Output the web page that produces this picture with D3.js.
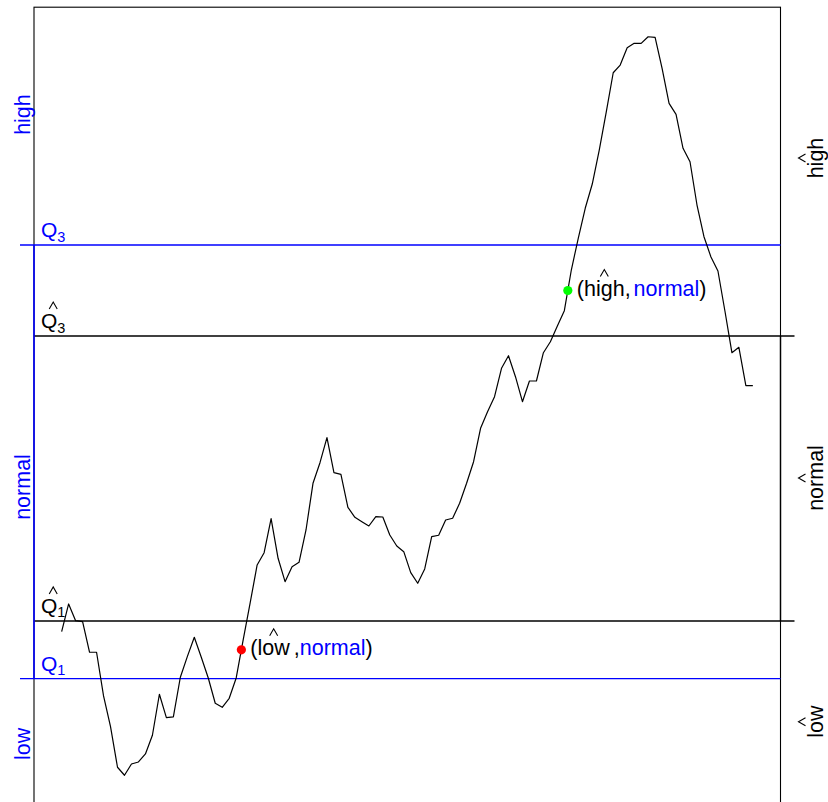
<!DOCTYPE html>
<html>
<head>
<meta charset="utf-8">
<script src="https://cdn.jsdelivr.net/npm/d3@7"></script>
<style>
  html, body { margin: 0; padding: 0; background: #fff; }
  svg { display: block; }
</style>
</head>
<body>
<svg id="chart" width="828" height="802"></svg>
<script>
// Observed series (one value per time step)
const series = [
  16.83, 19.60, 17.93, 17.83, 14.77, 14.77, 10.40, 7.33, 3.27, 2.47,
  3.60, 3.80, 4.60, 6.47, 10.57, 8.23, 8.30, 12.27, 14.33, 16.27,
  14.27, 12.20, 9.67, 9.27, 10.17, 12.20, 16.00, 19.70, 23.50, 24.73,
  28.13, 24.17, 21.83, 23.33, 23.77, 27.00, 31.67, 33.73, 36.23, 32.73,
  32.57, 29.27, 28.27, 27.83, 27.40, 28.33, 28.30, 26.50, 25.40, 24.83,
  22.73, 21.67, 23.10, 26.33, 26.47, 28.00, 28.17, 29.67, 31.67, 33.83,
  37.17, 38.83, 40.33, 43.17, 44.43, 42.33, 39.83, 41.90, 41.90, 44.73,
  45.83, 47.40, 48.93, 53.00, 56.20, 59.20, 61.60, 65.00, 68.80, 72.73,
  73.50, 75.23, 75.67, 75.67, 76.33, 76.27, 73.17, 69.67, 68.57, 65.17,
  63.83, 59.50, 56.33, 54.30, 52.90, 48.90, 44.73, 45.27, 41.43, 41.43
];

// True quartiles (Q1, Q3) and estimated quartiles (Q1 hat, Q3 hat)
const trueQuartiles = [12.13, 55.5];
const estQuartiles = [17.9, 46.4];
const quartileSubs = ["1", "3"];

// Class names
const classNames = ["low", "normal", "high"];

// Misclassified points: segment of the series where it crosses the
// middle of the gap between a true and an estimated quartile
const misclassified = [
  { seg: 25, quartile: 0, est: "low",  truth: "normal", color: "#ff0000" },
  { seg: 72, quartile: 1, est: "high", truth: "normal", color: "#00ff00" }
];

// Vertical placement of the class names (data units)
const trueLabelAt = [5.6, 31.3, 68.55];
const estLabelAt = [7.83, 32.2, 64.2];

const BLUE = "#0000ff";
const FONT = "'Liberation Sans', Arial, Helvetica, sans-serif";
const FS = 21.5;

// Spacing around the comma in the point labels
const commaSpacing = { low: [4, 0], high: [0, 3] };

const svg = d3.select("#chart");
const n = series.length;

// R-style 4% axis padding
const xPad = (n - 1) * 0.04;
const x = d3.scaleLinear().domain([1 - xPad, n + xPad]).range([34, 780.5]);
const [vMin, vMax] = d3.extent(series);
const yPad = (vMax - vMin) * 0.04;
const y = d3.scaleLinear().domain([vMin - yPad, vMax + yPad]).range([804.8, 7.2]);

const left = x.range()[0], right = x.range()[1];

// Plot frame
svg.append("rect")
  .attr("x", left).attr("y", y.range()[1])
  .attr("width", right - left).attr("height", y.range()[0] - y.range()[1])
  .attr("fill", "none").attr("stroke", "#000").attr("stroke-width", 1.1);

// True quartile lines (blue) extend into the left margin
svg.selectAll("line.trueq").data(trueQuartiles).join("line")
  .attr("class", "trueq")
  .attr("x1", left - 14).attr("x2", right)
  .attr("y1", d => y(d)).attr("y2", d => y(d))
  .attr("stroke", BLUE).attr("stroke-width", 1.3);

// Estimated quartile lines (black) extend into the right margin
svg.selectAll("line.estq").data(estQuartiles).join("line")
  .attr("class", "estq")
  .attr("x1", left).attr("x2", right + 14)
  .attr("y1", d => y(d)).attr("y2", d => y(d))
  .attr("stroke", "#000").attr("stroke-width", 1.3);

// "normal" range marks on both sides
svg.append("line")
  .attr("x1", left).attr("x2", left)
  .attr("y1", y(trueQuartiles[0])).attr("y2", y(trueQuartiles[1]))
  .attr("stroke", BLUE).attr("stroke-width", 1.6);
svg.append("line")
  .attr("x1", right).attr("x2", right)
  .attr("y1", y(estQuartiles[0])).attr("y2", y(estQuartiles[1]))
  .attr("stroke", "#000").attr("stroke-width", 1.4);

// Series
const line = d3.line().x((d, i) => x(i + 1)).y(d => y(d));
svg.append("path")
  .datum(series)
  .attr("d", line)
  .attr("fill", "none").attr("stroke", "#000").attr("stroke-width", 1.2)
  .attr("stroke-linejoin", "round");

// Helpers for text
function addText(parent, str, px, py, color, size) {
  return parent.append("text")
    .attr("x", px).attr("y", py)
    .attr("font-family", FONT).attr("font-size", size || FS)
    .attr("fill", color || "#000")
    .text(str);
}
function width(t) { return t.node().getComputedTextLength(); }
function caret(parent, cx, baseY, lift, color) {
  const b = baseY - lift;
  parent.append("path")
    .attr("d", `M${cx - 4},${b} L${cx},${b - 7} L${cx + 4},${b}`)
    .attr("fill", "none").attr("stroke", color || "#000").attr("stroke-width", 1.1);
}

// Quartile labels
function quartileLabel(value, sub, hat, color) {
  const g = svg.append("g").attr("transform", `translate(41, ${y(value) - 8})`);
  const q = addText(g, "Q", 0, 0, color, 21);
  const wq = width(q);
  const s = addText(g, sub, wq, 4.5, color, 14.5);
  const ws = width(s);
  if (hat) caret(g, (wq + ws) / 2, 0, 19, color);
}
trueQuartiles.forEach((v, i) => quartileLabel(v, quartileSubs[i], false, BLUE));
estQuartiles.forEach((v, i) => quartileLabel(v, quartileSubs[i], true, "#000"));

// True class names (left margin)
classNames.forEach((name, i) => {
  svg.append("text")
    .attr("transform", `translate(29.5, ${y(trueLabelAt[i])}) rotate(-90)`)
    .attr("text-anchor", "middle")
    .attr("font-family", FONT).attr("font-size", FS)
    .attr("fill", BLUE)
    .text(name);
});

// Estimated class names with hats (right margin)
classNames.forEach((name, i) => {
  const g = svg.append("g")
    .attr("transform", `translate(822.5, ${y(estLabelAt[i])}) rotate(-90)`);
  addText(g, name, 0, 0, "#000").attr("text-anchor", "middle");
  caret(g, 0, 0, 17, "#000");
});

// Misclassified points and their labels
misclassified.forEach(m => {
  const level = (trueQuartiles[m.quartile] + estQuartiles[m.quartile]) / 2;
  const v0 = series[m.seg], v1 = series[m.seg + 1];
  const t = (level - v0) / (v1 - v0);
  const px = x(m.seg + 1 + t);
  const py = y(level);
  svg.append("circle")
    .attr("cx", px).attr("cy", py).attr("r", 4.6)
    .attr("fill", m.color);

  const [gapBefore, gapAfter] = commaSpacing[m.est];
  const g = svg.append("g").attr("transform", `translate(${px + 9}, ${py + 5})`);
  let cx = 0;
  const p1 = addText(g, "(", cx, 0); cx += width(p1);
  const w1 = addText(g, m.est, cx, 0);
  const ww = width(w1);
  caret(g, cx + ww / 2, 0, 19, "#000");
  cx += ww + gapBefore;
  const c = addText(g, ",", cx, 0); cx += width(c) + gapAfter;
  const tr = addText(g, m.truth, cx, 0, BLUE); cx += width(tr);
  addText(g, ")", cx, 0);
});
</script>
</body>
</html>
